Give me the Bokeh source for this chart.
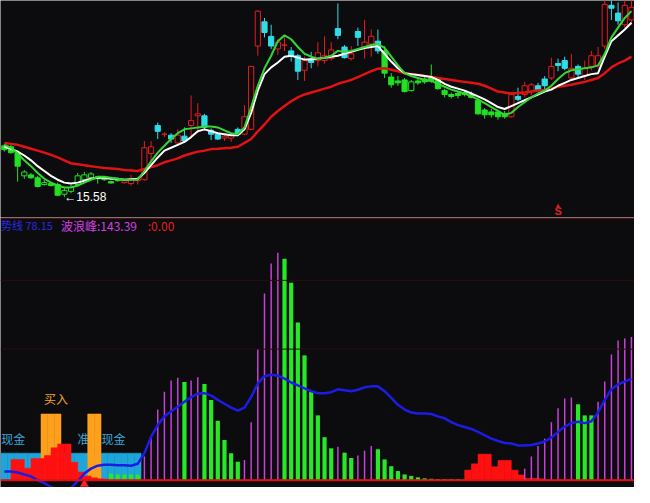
from bokeh.plotting import figure
from bokeh.layouts import column
from bokeh.models import Range1d, Span
from bokeh.embed import file_html
from bokeh.resources import INLINE
from bokeh.core.properties import value

# ---------------- data ----------------
idx = list(range(95))

open_ = [18.23, 18.18, 17.88, 16.68, 16.73, 16.58, 16.23, 16.28, 16.23, 15.73,
         15.88, 16.23, 16.48, 16.58, 16.63, 16.53, 16.38, 16.48, 16.33, 16.28,
         16.43, 16.48, 17.83, 19.28, 18.83, 18.78, 18.38, 18.73, 19.28, 19.78,
         19.78, 19.03, 18.83, 18.63, 18.63, 19.08, 18.83, 19.08, 23.38, 24.63,
         23.88, 23.23, 23.43, 23.13, 22.88, 22.13, 22.73, 22.63, 22.63, 22.73,
         24.28, 23.33, 22.73, 24.13, 23.33, 23.48, 23.63, 23.13, 21.78, 21.58,
         21.63, 21.08, 21.58, 21.68, 21.73, 21.68, 21.08, 20.88, 20.93, 20.98,
         20.88, 20.58, 20.08, 19.98, 19.98, 19.88, 19.73, 20.78, 20.88, 21.03,
         21.33, 21.68, 21.73, 22.48, 22.63, 21.73, 22.33, 21.83, 22.33, 22.38,
         23.38, 25.48, 25.08, 24.48, 24.73]
high_ = [18.33, 18.28, 17.98, 16.98, 16.83, 16.68, 16.48, 16.38, 16.33, 16.08,
         16.23, 16.83, 16.88, 16.88, 16.68, 16.58, 16.43, 16.53, 16.53, 16.73,
         16.58, 18.48, 18.48, 19.43, 18.93, 18.88, 19.08, 19.18, 20.83, 20.43,
         19.88, 19.13, 18.93, 18.83, 18.88, 19.18, 20.33, 22.33, 25.23, 24.83,
         24.48, 23.73, 23.83, 23.33, 22.98, 22.83, 23.08, 23.58, 23.88, 23.58,
         25.58, 23.43, 23.38, 24.33, 24.73, 24.23, 24.23, 23.38, 21.98, 21.83,
         21.73, 21.63, 21.68, 21.78, 22.43, 21.78, 21.18, 20.98, 21.03, 21.08,
         21.03, 20.73, 20.18, 20.13, 20.08, 20.03, 20.98, 21.23, 21.53, 21.48,
         21.48, 21.83, 22.78, 22.73, 22.83, 22.98, 22.43, 22.63, 23.13, 23.33,
         25.80, 25.80, 25.63, 25.80, 25.80]
low_ = [17.93, 17.83, 16.38, 16.53, 16.53, 16.08, 16.18, 16.13, 15.63, 15.58,
        15.78, 16.13, 16.38, 16.53, 16.28, 16.43, 16.28, 16.38, 16.28, 16.18,
        16.23, 16.43, 17.38, 18.58, 18.68, 18.38, 18.33, 18.38, 18.73, 18.88,
        19.03, 18.53, 18.53, 18.48, 18.43, 18.73, 18.78, 19.03, 22.88, 23.83,
        23.23, 22.93, 23.13, 22.58, 21.63, 21.58, 22.23, 22.33, 22.48, 22.63,
        23.73, 22.73, 22.63, 23.38, 22.73, 22.83, 22.98, 21.73, 21.23, 21.33,
        20.98, 21.03, 21.38, 21.43, 21.48, 21.13, 20.73, 20.68, 20.68, 20.78,
        20.68, 19.83, 19.63, 19.68, 19.58, 19.63, 19.68, 20.53, 20.73, 20.83,
        21.03, 21.13, 21.63, 22.08, 22.13, 21.63, 21.73, 21.63, 22.13, 22.23,
        23.23, 24.73, 24.48, 24.33, 24.48]
close_ = [18.03, 17.88, 17.18, 16.88, 16.58, 16.13, 16.33, 16.18, 15.68, 15.93,
          16.08, 16.68, 16.73, 16.78, 16.53, 16.48, 16.31, 16.43, 16.43, 16.53,
          16.53, 18.13, 18.18, 18.98, 18.83, 18.58, 18.78, 18.48, 19.53, 19.88,
          19.18, 18.83, 18.58, 18.73, 18.78, 18.83, 19.73, 22.33, 25.18, 24.08,
          23.38, 23.58, 23.43, 22.88, 22.08, 22.63, 22.53, 23.03, 22.88, 23.18,
          23.93, 22.78, 22.98, 23.83, 23.58, 23.88, 23.13, 21.98, 21.38, 21.48,
          21.03, 21.53, 21.48, 21.53, 21.58, 21.18, 20.88, 20.78, 20.83, 20.88,
          20.73, 19.88, 19.83, 19.83, 19.73, 19.73, 20.88, 20.63, 21.33, 21.38,
          21.13, 21.33, 22.33, 22.38, 22.23, 22.23, 21.93, 22.23, 22.88, 22.88,
          25.53, 25.33, 24.68, 25.48, 25.38]

# trend regimes (first bar, last bar, regime)
regimes = [(0, 17, "D"), (18, 56, "U"), (57, 75, "D"), (76, 94, "U")]

ma_fast = [18.28, 18.13, 17.83, 17.48, 17.18, 16.83, 16.53, 16.33, 16.18, 16.08,
           16.08, 16.18, 16.33, 16.48, 16.63, 16.63, 16.58, 16.53, 16.48, 16.48,
           16.48, 16.93, 17.43, 17.88, 18.23, 18.58, 18.88, 19.08, 19.13, 19.18,
           19.23, 19.23, 19.18, 19.03, 18.88, 18.83, 19.18, 20.23, 21.33, 22.23,
           22.88, 23.63, 23.93, 23.73, 23.33, 22.98, 22.83, 22.73, 22.78, 22.88,
           23.13, 23.08, 23.13, 23.23, 23.33, 23.43, 23.48, 23.28, 22.83, 22.38,
           21.98, 21.83, 21.73, 21.63, 21.58, 21.43, 21.28, 21.13, 21.03, 20.93,
           20.78, 20.63, 20.43, 20.23, 20.03, 19.83, 19.93, 20.23, 20.48, 20.73,
           20.93, 21.08, 21.33, 21.68, 21.98, 22.13, 22.18, 22.23, 22.28, 22.38,
           22.98, 23.83, 24.33, 24.83, 25.18]
ma_mid = [18.18, 18.08, 17.93, 17.73, 17.48, 17.18, 16.93, 16.68, 16.48, 16.33,
          16.28, 16.33, 16.43, 16.53, 16.58, 16.58, 16.53, 16.53, 16.48, 16.51,
          16.53, 16.83, 17.23, 17.63, 17.98, 18.13, 18.28, 18.43, 18.68, 18.98,
          19.08, 18.98, 18.88, 18.83, 18.78, 18.78, 19.08, 19.93, 21.08, 21.93,
          22.28, 22.53, 22.83, 22.88, 22.78, 22.68, 22.68, 22.73, 22.78, 22.83,
          22.88, 22.98, 23.08, 23.18, 23.28, 23.33, 23.38, 22.98, 22.58, 22.23,
          21.98, 21.93, 21.88, 21.83, 21.78, 21.63, 21.43, 21.28, 21.18, 21.08,
          20.93, 20.78, 20.63, 20.43, 20.23, 20.13, 20.28, 20.43, 20.58, 20.73,
          20.88, 21.03, 21.13, 21.33, 21.48, 21.63, 21.73, 21.83, 21.93, 21.98,
          22.83, 23.63, 23.93, 24.23, 24.58]
ma_slow = [18.38, 18.33, 18.28, 18.18, 18.08, 17.98, 17.88, 17.76, 17.63, 17.48,
           17.33, 17.28, 17.23, 17.18, 17.13, 17.08, 17.06, 17.03, 16.98, 16.96,
           16.93, 17.03, 17.13, 17.23, 17.38, 17.48, 17.58, 17.73, 17.83, 17.93,
           17.98, 18.06, 18.08, 18.11, 18.13, 18.18, 18.38, 18.58, 18.98, 19.33,
           19.73, 20.03, 20.28, 20.53, 20.73, 20.88, 20.98, 21.08, 21.18, 21.28,
           21.43, 21.53, 21.63, 21.78, 21.93, 22.08, 22.21, 22.23, 22.16, 22.08,
           21.98, 21.93, 21.88, 21.83, 21.78, 21.73, 21.68, 21.63, 21.58, 21.53,
           21.48, 21.43, 21.33, 21.18, 21.03, 20.98, 20.93, 20.96, 20.98, 21.03,
           21.08, 21.11, 21.18, 21.28, 21.33, 21.38, 21.46, 21.53, 21.63, 21.73,
           21.98, 22.28, 22.48, 22.63, 22.83]

# lower panel
cash_idx = [0, 1, 2, 3, 4, 5, 6, 7, 8, 9, 10, 11, 12, 13, 14, 15, 16, 17, 18, 19, 20]
cash_val = [28, 28, 28, 28, 28, 28, 28, 28, 28, 28, 28, 28, 28, 28, 28, 28, 28, 28, 28, 28, 28]
buy_idx = [6, 7, 8, 13, 14]
buy_val = [68.5, 68.5, 68.5, 68.5, 68.5]
red_fund = [0, 21.5, 21.5, 12.5, 22.5, 22.5, 25.5, 33.5, 37.5, 37.5,
            18.5, 8.5, 4.5, 2.5, 1.5, 1, 0, 0, 0, 0,
            0, 0, 0, 0, 0, 0, 0, 0, 0, 0,
            0, 0, 0, 0, 0, 0, 0, 0, 0, 0,
            0, 0, 0, 0, 0, 0, 0, 0, 0, 0,
            0, 0, 0, 0, 0, 0, 0, 0, 0, 0,
            0, 0, 0, 0, 0, 0, 0, 0, 0, 10.5,
            17, 27, 27, 14, 20.5, 20.5, 10.5, 5.5, 2, 2,
            1.5, 0, 0, 0, 0, 0, 0, 0, 0, 0,
            0, 0, 0, 0, 0]
wave_up = [0, 0, 0, 0, 0, 0, 0, 0, 0, 0,
           0, 0, 0, 0, 0, 0, 0, 0, 0, 0,
           0, 24.5, 45, 73, 91.5, 103, 106, 0, 103, 106.5,
           0, 0, 0, 0, 0, 0, 21, 60, 135.5, 193,
           224, 235, 0, 0, 0, 0, 0, 0, 0, 0,
           34.5, 0, 0, 25.5, 30.5, 35.5, 0, 0, 0, 0,
           0, 0, 0, 0, 0, 0, 0, 0, 0, 0,
           0, 0, 0, 0, 0, 0, 0, 0, 12, 24.5,
           35.5, 43, 60, 74.5, 84.5, 85.5, 0, 0, 0, 81,
           102, 130, 144.5, 146.5, 148]
wave_dn = [0, 0, 0, 0, 0, 0, 0, 0, 0, 0,
           0, 0, 0, 0, 0, 0, 7, 6, 6, 6,
           6, 0, 0, 0, 0, 0, 0, 101.5, 0, 0,
           99.5, 83, 61.5, 41.5, 28, 19, 0, 0, 0, 0,
           0, 0, 229, 204, 163, 129, 91.5, 67, 44.5, 33,
           0, 28.5, 23, 0, 0, 0, 32, 21.5, 14.5, 9.5,
           6, 4.5, 3, 2, 1.5, 1, 1, 1, 1, 0.5,
           0, 0, 0, 0, 0, 0, 0, 0, 0, 0,
           0, 0, 0, 0, 0, 0, 78.5, 67, 67, 0,
           0, 0, 0, 0, 0]
trend_line = [9, 9, 8, 6, 4, 0, -3, -7, -10, -12,
              -8, -1, 7, 12, 15, 16, 16, 15.5, 15.5, 15,
              17, 28, 45, 57, 66, 71, 76, 81, 86, 89.5,
              90, 87.5, 83, 79, 75, 72, 75, 86, 100, 107.5,
              109, 108, 105, 101, 98, 95, 92, 90, 90, 91,
              94, 93, 92, 93.5, 96, 97, 97, 92, 85, 78,
              73, 70, 69, 69, 68.5, 66, 64, 60, 57, 55,
              53, 50, 46.5, 43, 40.5, 38.5, 38, 36, 36, 36.5,
              38, 40, 44, 50, 55.5, 59, 60.5, 59, 61, 70,
              83, 94, 99, 102, 105]

header_trend = 78.15
header_peak = 143.39
header_third = 0.00
sell_bar = 83
signal_bar = 12

# ---------------- styling ----------------
BG = "#0c0c0f"
RED = "#e41c1c"
CYAN = "#2fdde6"
GRN = "#22e022"
CJK = value("Noto Sans CJK SC")
W, H_TOP, H_BOT = 634, 217, 270
XR = (-0.57, 94.46)


def make_fig(h, y0, y1):
    p = figure(width=W, height=h, x_range=Range1d(*XR), y_range=Range1d(y0, y1),
               output_backend="svg", toolbar_location=None,
               x_axis_type=None, y_axis_type=None, min_border=0,
               background_fill_color=BG, border_fill_color=BG,
               outline_line_color=None)
    p.grid.visible = False
    return p


# ---------------- top panel ----------------
top = make_fig(H_TOP, 14.53, 25.73)

trend = [""] * len(idx)
for a, b, r in regimes:
    for i in range(a, b + 1):
        trend[i] = r

line_col, fill_col = [], []
for i in idx:
    up = close_[i] >= open_[i]
    if trend[i] == "D":
        line_col.append(GRN)
        fill_col.append(BG if up else GRN)
    else:
        line_col.append(RED if up else CYAN)
        fill_col.append(BG if up else CYAN)

body_top = [max(o, c) for o, c in zip(open_, close_)]
body_bot = [min(o, c) for o, c in zip(open_, close_)]

top.segment(x0=idx, y0=low_, x1=idx, y1=high_, line_color=line_col, line_width=1)
top.vbar(x=idx, width=0.78, top=body_top, bottom=body_bot,
         fill_color=fill_col, line_color=line_col, line_width=1)

top.line(idx, ma_slow, line_color="#e01212", line_width=2.5)
top.line(idx, ma_mid, line_color="#ffffff", line_width=2)
top.line(idx, ma_fast, line_color="#33d633", line_width=2)

i_low = low_.index(min(low_))
top.text(x=[i_low], y=[low_[i_low]], text=["\u2190" + f"{low_[i_low]:.2f}"],
         text_color="#ffffff", text_font_size="12px", text_baseline="middle",
         text_align="left", text_font=value("Liberation Sans"))

top.text(x=[sell_bar], y=[14.53], text=["S"], text_color="#e02020",
         text_font_size="11px", text_font_style="bold", text_align="center",
         text_baseline="bottom", y_offset=-1, text_font=value("Liberation Sans"))
top.scatter(x=[sell_bar], y=[15.12], marker="triangle", size=4,
            fill_color="#e02020", line_color=None)

# ---------------- bottom panel ----------------
bot = make_fig(H_BOT, -7.5, 271.5)
for loc in (206.5, 135.5):
    bot.add_layout(Span(location=loc, dimension="width", line_color="#2a0d0d", line_width=1))
bot.add_layout(Span(location=270.8, dimension="width", line_color="#741414", line_width=1))

bot.vbar(x=cash_idx, width=1, top=cash_val, bottom=0,
         fill_color="#1ea6da", line_color="#1ea6da", line_width=0.5)

bot.text(x=[10.98], y=[43.5], text=["准备现金"],
         text_color="#3ba5d6", text_font_size="12px", text_baseline="middle",
         text_align="left", text_font=CJK)
bot.text(x=[-0.45], y=[43.5], text=["现金"],
         text_color="#3ba5d6", text_font_size="12px", text_baseline="middle",
         text_align="left", text_font=CJK)
bot.text(x=[7.76], y=[84.5], text=["买入"], text_color="#f0a22a",
         text_font_size="12px", text_baseline="middle", text_align="center",
         text_font=CJK)

bot.vbar(x=buy_idx, width=1, top=buy_val, bottom=0,
         fill_color="#ffa01c", line_color="#ffa01c", line_width=0.5)

bot.vbar(x=[i + 0.5 for i in idx], width=1, top=red_fund, bottom=0,
         fill_color="#ff1010", line_color="#ff1010", line_width=0.5)

bot.vbar(x=idx, width=0.22, top=wave_up, bottom=0, fill_color="#cc3fdc", line_color=None)
bot.vbar(x=idx, width=0.63, top=wave_dn, bottom=0, fill_color="#27e827", line_color=None)

bot.add_layout(Span(location=0, dimension="width", line_color="#e01010", line_width=2))

bot.line(idx, trend_line, line_color="#1c1ce6", line_width=2.5)

bot.scatter(x=[signal_bar], y=[-4], marker="triangle", size=9,
            fill_color="#ff2020", line_color=None)

HY = 263.5
bot.text(x=[-0.5], y=[HY], text=[f"势线 {header_trend:.2f}"], text_color="#2a2ae0",
         text_font_size="11px", text_baseline="middle", text_align="left", text_font=CJK)
bot.text(x=[8.5], y=[HY], text=[f"波浪峰:{header_peak:.2f}"], text_color="#d040e0",
         text_font_size="12px", text_baseline="middle", text_align="left", text_font=CJK)
bot.text(x=[21.5], y=[HY], text=[f":{header_third:.2f}"], text_color="#e02020",
         text_font_size="12px", text_baseline="middle", text_align="left", text_font=CJK)

layout = column(top, bot, spacing=0)
open("out.html", "w").write(file_html(layout, INLINE))
